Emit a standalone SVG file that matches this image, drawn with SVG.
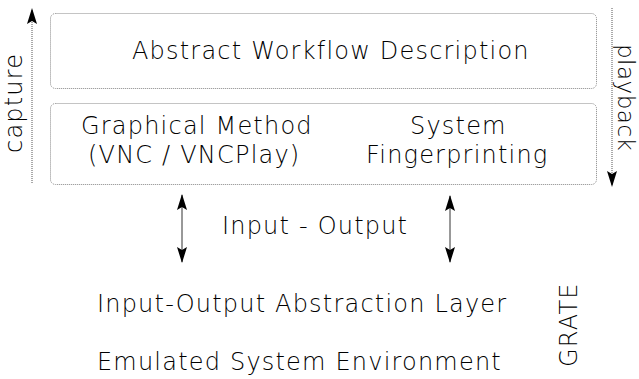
<svg xmlns="http://www.w3.org/2000/svg" width="639" height="379" viewBox="0 0 639 379">
<defs>
<style>
.t{font-family:"DejaVu Sans","Liberation Sans",sans-serif;font-size:24px;font-weight:200;letter-spacing:1.2px;fill:#000}
.box{fill:none;stroke:#888;stroke-width:1;stroke-dasharray:1 1}
.ln{stroke:#333;stroke-width:1;fill:none}
.dl{stroke:#555;stroke-width:1;stroke-dasharray:1 1;fill:none}
</style>
<marker id="ah" viewBox="0 0 16 10" refX="15" refY="5" markerWidth="16" markerHeight="10" markerUnits="userSpaceOnUse" orient="auto-start-reverse">
<path d="M0,0 L16,5 L0,10 L3,5 Z" fill="#000"/>
</marker>
</defs>
<rect width="639" height="379" fill="#fff"/>
<g id="abstract-workflow">
<rect class="box" x="50.5" y="13.5" width="546" height="75" rx="5"/>
<text class="t" x="132" y="59">Abstract Workflow Description</text>
</g>
<g id="methods">
<rect class="box" x="50.5" y="103.5" width="546" height="81" rx="5"/>
<text class="t" x="81" y="134">Graphical Method</text>
<text class="t" x="88" y="163">(VNC / VNCPlay)</text>
<text class="t" x="410" y="134">System</text>
<text class="t" x="366" y="163">Fingerprinting</text>
</g>
<g id="capture">
<text class="t" transform="translate(22,153) rotate(-90)">capture</text>
</g>
<g id="playback">
<text class="t" style="font-size:23px;letter-spacing:0.5px" transform="translate(618,44) rotate(90)">playback</text>
</g>
<g id="io-label">
<text class="t" x="222" y="234">Input - Output</text>
</g>
<g id="io-layer">
<text class="t" x="97" y="312">Input-Output Abstraction Layer</text>
</g>
<g id="emulated">
<text class="t" x="97" y="370">Emulated System Environment</text>
</g>
<g id="grate">
<text class="t" transform="translate(577,367) rotate(-90)">GRATE</text>
</g>
<g id="connectors">
<line class="dl" x1="32" y1="183" x2="32" y2="9" marker-end="url(#ah)"/>
<line class="dl" x1="612" y1="8" x2="612" y2="186" marker-end="url(#ah)"/>
<line class="ln" x1="182" y1="195" x2="182" y2="262" marker-start="url(#ah)" marker-end="url(#ah)"/>
<line class="ln" x1="450" y1="196" x2="450" y2="262" marker-start="url(#ah)" marker-end="url(#ah)"/>
</g>
</svg>
